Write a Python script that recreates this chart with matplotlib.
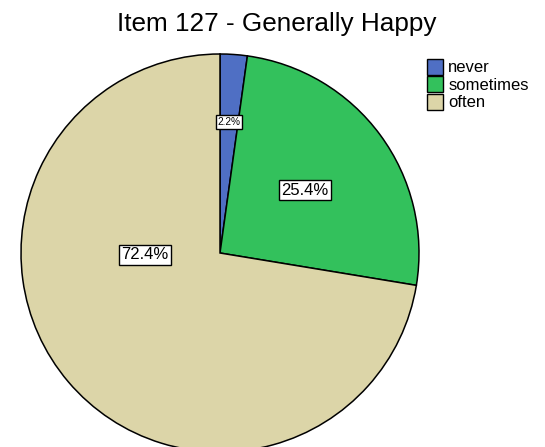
import numpy as np
import matplotlib.pyplot as plt
from matplotlib.patches import Patch

plt.rcParams['font.family'] = ['Liberation Sans', 'DejaVu Sans']

categories = ["never", "sometimes", "often"]
values = [2.2, 25.4, 72.4]
colors = ["#4f6fc4", "#33c15c", "#dcd5a8"]

# label placement (angle in degrees, distance from centre as fraction of radius)
label_pos = [(86.0, 0.66), (36.4, 0.53), (181.5, 0.377)]
label_size = [7.3, 12, 12]

fig = plt.figure(figsize=(5.45, 4.47), dpi=100)
ax = fig.add_axes([0, 0, 1, 1])

wedges, _ = ax.pie(values, colors=colors, startangle=90, counterclock=False,
                   radius=1.0, wedgeprops=dict(edgecolor="black", linewidth=1.1))

for v, (ang, d), fs in zip(values, label_pos, label_size):
    a = np.deg2rad(ang)
    ax.text(d * np.cos(a), d * np.sin(a), f"{v:.1f}%", ha="center", va="center",
            fontsize=fs,
            bbox=dict(boxstyle="square,pad=0.15", fc="white", ec="black", lw=1.0))

ax.set_xlim(-220 / 199, (545 - 220) / 199)
ax.set_ylim((253 - 447) / 199, 253 / 199)
ax.set_aspect("equal")
ax.axis("off")

fig.text(277 / 545, 1 - 30.5 / 447, "Item 127 - Generally Happy", ha="center",
         va="baseline", fontsize=18.8)

handles = [Patch(facecolor=c, edgecolor="black", linewidth=1.0) for c in colors]
fig.legend(handles, categories, loc="upper left", bbox_to_anchor=(420 / 545, 1 - 52 / 447),
           frameon=False, fontsize=12, handlelength=1.0, handleheight=1.1,
           handletextpad=0.3, labelspacing=0.05, borderaxespad=0)

fig.savefig("out.png", dpi=100)
